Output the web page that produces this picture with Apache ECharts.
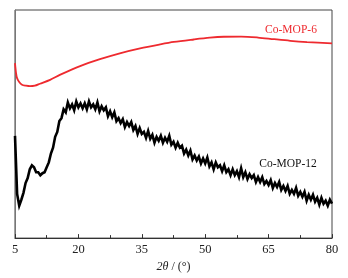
<!DOCTYPE html>
<html>
<head>
<meta charset="utf-8">
<script src="https://cdn.jsdelivr.net/npm/echarts@6/dist/echarts.min.js"></script>
<style>
  html, body { margin: 0; padding: 0; background: #fff; }
  #main { width: 348px; height: 278px; }
</style>
</head>
<body>
<div id="main"></div>
<script>
// XRD 图谱
var xTicks = [5, 20, 35, 50, 65, 80];

// Co-MOP-6 (红色, 平滑)
var mop6Angle = [5.0, 5.24, 5.47, 5.95, 6.66, 7.6, 8.55, 9.7, 10.9, 13.3, 15.6, 20.4, 25.1, 29.8, 34.6, 39.3, 42.6, 47.3, 51.1, 54.4, 58.5, 62.5, 66.3, 70.1, 74.1, 80.0];
var mop6Value = [178, 168, 163, 159, 156, 155, 154.5, 155, 157, 161, 166, 175, 182, 188, 193, 197, 199.5, 202, 203.8, 204.8, 205, 204, 202.3, 200.7, 199.4, 198];

// Co-MOP-12 (黑色, 噪声), 每 0.5° 一个点, 从 5° 开始
var mop12Start = 5;
var mop12Step = 0.5;
var mop12Value = [
  104, 45, 33, 39, 46, 56, 61, 70, 74, 72,
  67, 67, 64, 66, 67, 72, 77, 86, 92, 103,
  108, 119, 122, 131, 128, 138, 132, 136, 130, 139,
  133, 137, 132, 137, 131, 139, 133, 136, 131, 138,
  129, 134, 130, 133, 124, 129, 123, 128, 119, 122,
  117, 121, 113, 118, 114, 118, 110, 114, 106, 112,
  106, 108, 102, 109, 101, 105, 97, 103, 99, 104,
  97, 102, 98, 104, 95, 98, 92, 97, 92, 94,
  86, 90, 84, 89, 80, 84, 79, 83, 76, 81,
  76, 82, 73, 77, 70, 77, 72, 74, 68, 74,
  67, 70, 64, 70, 64, 68, 62, 71, 62, 67,
  60, 65, 61, 64, 57, 62, 57, 62, 55, 58,
  54, 59, 51, 56, 52, 57, 49, 53, 48, 53,
  45, 49, 45, 51, 43, 47, 42, 47, 38, 44,
  39, 44, 37, 41, 34, 41, 35, 38, 33, 39,
  35
];

var mop12Data = mop12Value.map(function (v, i) {
  return [mop12Start + i * mop12Step, v];
});
var mop6Data = mop6Angle.map(function (a, i) {
  return [a, mop6Value[i]];
});

var chart = echarts.init(document.getElementById('main'));
var serif = '"Liberation Serif", "DejaVu Serif", serif';
option = {
  animation: false,
  grid: {
    left: 15,
    right: 16,
    top: 10,
    bottom: 36,
    show: true,
    borderColor: '#444',
    borderWidth: 1
  },
  xAxis: {
    type: 'value',
    min: 5,
    max: 80,
    interval: 15,
    name: '{i|2θ} / (°)',
    nameLocation: 'middle',
    nameGap: 22,
    nameTextStyle: {
      fontFamily: serif,
      fontSize: 12,
      color: '#222',
      rich: {
        i: { fontStyle: 'italic', fontFamily: serif, fontSize: 12, color: '#222' }
      }
    },
    axisLine: { lineStyle: { color: '#333' } },
    axisTick: { inside: true, length: 4, lineStyle: { color: '#333' } },
    minorTick: { show: true, splitNumber: 2, length: 3, lineStyle: { color: '#333' } },
    axisLabel: {
      fontFamily: serif,
      fontSize: 12.5,
      color: '#222',
      margin: 5,
      formatter: function (v) { return xTicks.indexOf(v) >= 0 ? v : ''; }
    },
    splitLine: { show: false }
  },
  yAxis: {
    type: 'value',
    min: 0,
    max: 232,
    axisLine: { show: true, lineStyle: { color: '#777' } },
    axisTick: { show: false },
    axisLabel: { show: false },
    splitLine: { show: false }
  },
  series: [
    {
      name: 'Co-MOP-6',
      type: 'line',
      data: mop6Data,
      smooth: 0.3,
      symbol: 'none',
      lineStyle: { color: '#ee2a2f', width: 1.8 },
      markPoint: {
        symbol: 'circle',
        symbolSize: 0,
        label: {
          show: true,
          position: 'inside',
          formatter: 'Co-MOP-6',
          color: '#ee2a2f',
          fontFamily: serif,
          fontSize: 11.5
        },
        data: [{ coord: [70.3, 212] }]
      }
    },
    {
      name: 'Co-MOP-12',
      type: 'line',
      data: mop12Data,
      symbol: 'none',
      lineStyle: { color: '#000', width: 2.6, join: 'miter' },
      markPoint: {
        symbol: 'circle',
        symbolSize: 0,
        label: {
          show: true,
          position: 'inside',
          formatter: 'Co-MOP-12',
          color: '#111',
          fontFamily: serif,
          fontSize: 11.5
        },
        data: [{ coord: [69.6, 75] }]
      }
    }
  ]
};
chart.setOption(option);
</script>
</body>
</html>
